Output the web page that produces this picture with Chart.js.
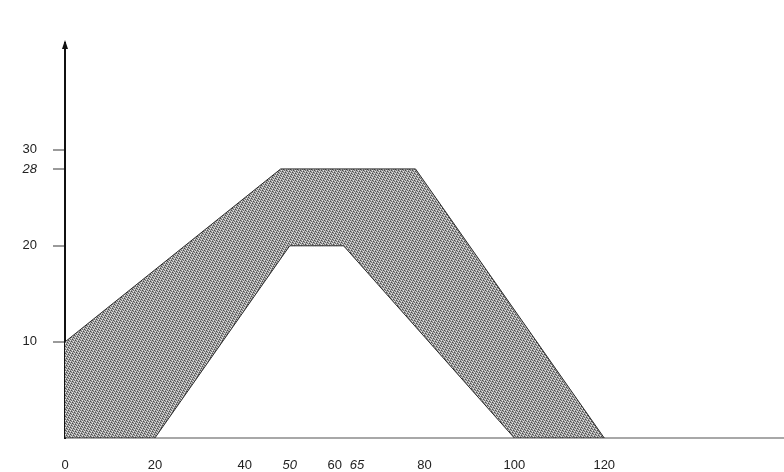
<!DOCTYPE html>
<html>
<head>
<meta charset="UTF-8" />
<title>Band</title>
<script src="https://cdn.jsdelivr.net/npm/chart.js"></script>
<style>
  body { margin: 0; background: #fff; }
  .wrap { width: 784px; height: 472px; }
</style>
</head>
<body>
<div class="wrap"><canvas id="chart" width="784" height="472"></canvas></div>
<script>
// upper edge of the band, left to right
const upperX = [0, 48, 78, 120];
const upperY = [10, 28, 28, 0];
// lower edge of the band, left to right
const lowerX = [0, 20, 50, 62, 100];
const lowerY = [0, 0, 20, 20, 0];
// tick labels
const xTicks = [0, 20, 40, 50, 60, 65, 80, 100, 120];
const yTicks = [10, 20, 28, 30];
const italicX = [50, 65];
const italicY = [28];

// one closed outline: along the top, then back along the bottom
const outline = [];
upperX.forEach((x, i) => outline.push({ x: x, y: upperY[i] }));
for (let i = lowerX.length - 1; i >= 0; i--) outline.push({ x: lowerX[i], y: lowerY[i] });

// stipple texture like the printed halftone
function stipple() {
  const c = document.createElement("canvas");
  c.width = 7; c.height = 7;
  const g = c.getContext("2d");
  const shades = ["#4a4a4a", "#6e6e6e", "#8c8c8c", "#9c9c9c", "#b0b0b0", "#c4c4c4", "#e6e6e6"];
  for (let i = 0; i < 7; i++) {
    for (let j = 0; j < 7; j++) {
      g.fillStyle = shades[(i * 3 + j * 5) % 7];
      g.fillRect(i, j, 1, 1);
    }
  }
  return g.createPattern(c, "repeat");
}

// arrow head on the vertical axis
const arrowPlugin = {
  id: "arrow",
  afterDraw(chart) {
    const ctx = chart.ctx;
    const x = chart.scales.x.getPixelForValue(0);
    const top = chart.chartArea.top;
    ctx.save();
    ctx.strokeStyle = "#111";
    ctx.lineWidth = 2;
    ctx.beginPath();
    ctx.moveTo(x, top + 8);
    ctx.lineTo(x, top - 2);
    ctx.stroke();
    ctx.fillStyle = "#111";
    ctx.beginPath();
    ctx.moveTo(x, top - 4);
    ctx.lineTo(x - 3, top + 5);
    ctx.lineTo(x + 3, top + 5);
    ctx.closePath();
    ctx.fill();
    ctx.restore();
  }
};

const ctx = document.getElementById("chart").getContext("2d");
new Chart(ctx, {
  type: "scatter",
  data: {
    datasets: [{
      data: outline,
      showLine: true,
      fill: "shape",
      backgroundColor: stipple(),
      borderColor: "#2a2a2a",
      borderWidth: 1,
      pointRadius: 0,
      tension: 0
    }]
  },
  options: {
    responsive: false,
    animation: false,
    layout: { padding: { top: 44, right: 0, left: 0, bottom: 0 } },
    plugins: { legend: { display: false }, tooltip: { enabled: false } },
    scales: {
      x: {
        type: "linear",
        min: 0,
        max: 160,
        afterBuildTicks: (s) => { s.ticks = xTicks.map(v => ({ value: v })); },
        afterFit: (s) => { s.height = 34; },
        grid: { display: false, drawTicks: false },
        border: { display: true, color: "#a8a8a8", width: 2 },
        ticks: {
          color: "#222",
          padding: 20,
          maxRotation: 0,
          autoSkip: false,
          font: (c) => ({
            family: "Liberation Sans, Arial, sans-serif",
            size: 13,
            style: c.tick && italicX.includes(c.tick.value) ? "italic" : "normal"
          })
        }
      },
      y: {
        min: 0,
        max: 41,
        afterBuildTicks: (s) => { s.ticks = yTicks.map(v => ({ value: v })); },
        afterFit: (s) => { s.width = 65; },
        grid: { drawOnChartArea: false, tickLength: 12, color: "#9a9a9a", lineWidth: 2 },
        border: { display: true, color: "#111", width: 2 },
        ticks: {
          color: "#222",
          padding: 16,
          autoSkip: false,
          font: (c) => ({
            family: "Liberation Sans, Arial, sans-serif",
            size: 13,
            style: c.tick && italicY.includes(c.tick.value) ? "italic" : "normal"
          })
        }
      }
    }
  },
  plugins: [arrowPlugin]
});
</script>
</body>
</html>
